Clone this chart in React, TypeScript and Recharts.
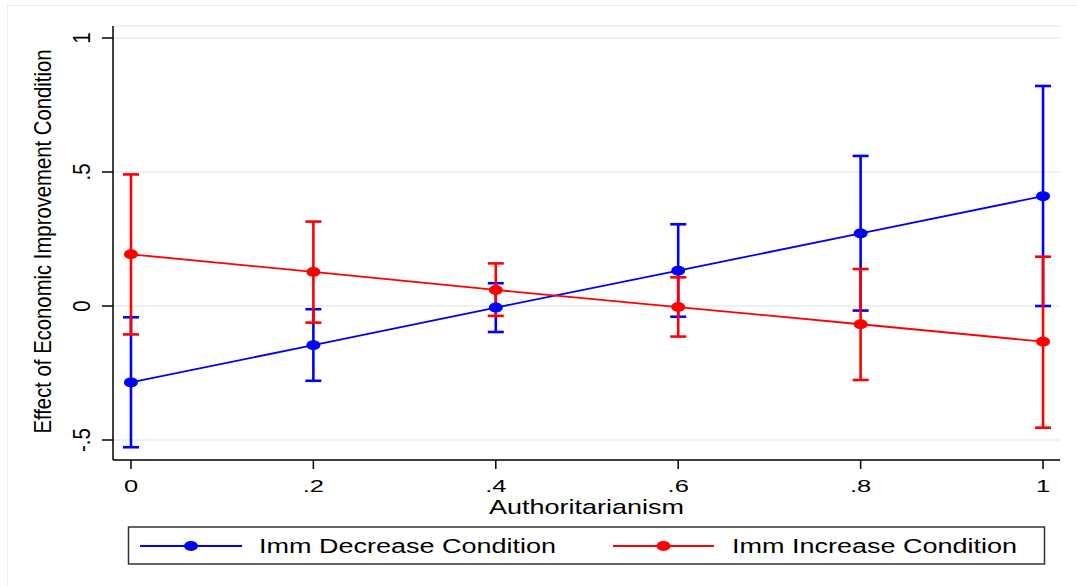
import { CartesianGrid, ComposedChart, ErrorBar, Label, Line, XAxis, YAxis } from "recharts"

const authoritarianism = [0, 0.2, 0.4, 0.6, 0.8, 1]

const decreaseEffect = [-0.285, -0.146, -0.006, 0.132, 0.271, 0.41]
const decreaseLow = [-0.527, -0.279, -0.097, -0.04, -0.017, 0.0]
const decreaseHigh = [-0.042, -0.012, 0.085, 0.305, 0.56, 0.821]

const increaseEffect = [0.193, 0.127, 0.06, -0.004, -0.068, -0.133]
const increaseLow = [-0.106, -0.062, -0.037, -0.114, -0.276, -0.454]
const increaseHigh = [0.491, 0.315, 0.159, 0.107, 0.138, 0.184]

const xTicks = [0, 0.2, 0.4, 0.6, 0.8, 1]
const yTicks = [-0.5, 0, 0.5, 1]

const series = [
  { key: "dec", name: "Imm Decrease Condition", color: "#0000ff" },
  { key: "inc", name: "Imm Increase Condition", color: "#ff0000" },
]

const data = authoritarianism.map((x, i) => ({
  x,
  dec: decreaseEffect[i],
  decErr: [decreaseEffect[i] - decreaseLow[i], decreaseHigh[i] - decreaseEffect[i]],
  inc: increaseEffect[i],
  incErr: [increaseEffect[i] - increaseLow[i], increaseHigh[i] - increaseEffect[i]],
}))

const FONT = "'Liberation Sans', Arial, Helvetica, sans-serif"
const STRETCH = 1.385

// stata style number labels: .2 instead of 0.2
const fmt = (v: number) => String(v).replace(/^(-?)0\./, "$1.")

function XTick(props: any) {
  const { x, y, payload } = props
  return (
    <text
      transform={`translate(${x},${y + 21}) scale(1.5,1)`}
      textAnchor="middle"
      fontFamily={FONT}
      fontSize={17}
      fill="#000"
    >
      {fmt(payload.value)}
    </text>
  )
}

function YTick(props: any) {
  const { x, y, payload } = props
  return (
    <text
      transform={`translate(${x - 10},${y}) rotate(-90) scale(1,1.15)`}
      textAnchor="middle"
      fontFamily={FONT}
      fontSize={20.5}
      fill="#000"
    >
      {fmt(payload.value)}
    </text>
  )
}

const makeDot = (color: string) => (p: any) => (
  <ellipse key={`d-${p.index}`} cx={p.cx} cy={p.cy} rx={7} ry={5} fill={color} />
)

function LegendBox() {
  const items = [
    { ...series[0], lineX: 140, lineEnd: 242, textX: 259 },
    { ...series[1], lineX: 613, lineEnd: 714, textX: 732 },
  ]
  return (
    <svg width={1077} height={586} style={{ position: "absolute", left: 0, top: 0, pointerEvents: "none" }}>
      <rect x={128.5} y={527} width={916} height={37} fill="#fff" stroke="#333" strokeWidth={1.5} />
      {items.map((it) => (
        <g key={it.key}>
          <line x1={it.lineX} y1={546} x2={it.lineEnd} y2={546} stroke={it.color} strokeWidth={1.8} />
          <ellipse cx={(it.lineX + it.lineEnd) / 2} cy={546} rx={7} ry={5} fill={it.color} />
          <text
            transform={`translate(${it.textX},553) scale(${STRETCH},1)`}
            fontFamily={FONT}
            fontSize={19.5}
            fill="#000"
          >
            {it.name}
          </text>
        </g>
      ))}
    </svg>
  )
}

export default function App() {
  return (
    <div style={{ position: "absolute", left: 0, top: 0, width: 1077, height: 586, background: "#fff" }}>
      <div
        style={{
          position: "absolute",
          left: 7,
          top: 5,
          width: 1090,
          height: 600,
          border: "1px solid #ececec",
        }}
      />
      <div style={{ position: "absolute", left: 0, top: 0 }}>
        <ComposedChart width={1077} height={586} data={data} margin={{ top: 26, right: 17, bottom: 66, left: 0 }}>
          <CartesianGrid horizontal vertical={false} stroke="#e6eef2" strokeWidth={1.5} />
          <XAxis
            dataKey="x"
            type="number"
            domain={[-0.0197, 1.0186]}
            ticks={xTicks}
            tick={<XTick />}
            tickSize={9}
            height={60}
            stroke="#000"
            strokeWidth={1.5}
            interval={0}
          >
            <Label
              content={(p: any) => {
                const vb = p.viewBox
                return (
                  <text
                    transform={`translate(${vb.x + vb.width / 2},${vb.y + 53.5}) scale(1.35,1)`}
                    textAnchor="middle"
                    fontFamily={FONT}
                    fontSize={20}
                    fill="#000"
                  >
                    Authoritarianism
                  </text>
                )
              }}
            />
          </XAxis>
          <YAxis
            type="number"
            domain={[-0.5746, 1.0448]}
            ticks={yTicks}
            tick={<YTick />}
            tickSize={11}
            width={113}
            stroke="#000"
            strokeWidth={1.5}
            interval={0}
          >
            <Label
              content={(p: any) => {
                const vb = p.viewBox
                return (
                  <text
                    transform={`translate(51,${vb.y + vb.height / 2 - 1.5}) rotate(-90) scale(1,1.18)`}
                    textAnchor="middle"
                    fontFamily={FONT}
                    fontSize={20.3}
                    fill="#000"
                  >
                    Effect of Economic Improvement Condition
                  </text>
                )
              }}
            />
          </YAxis>
          {series.map((s) => (
            <Line
              key={s.key}
              dataKey={s.key}
              name={s.name}
              type="linear"
              stroke={s.color}
              strokeWidth={1.8}
              dot={makeDot(s.color)}
              activeDot={false}
              isAnimationActive={false}
            >
              <ErrorBar dataKey={`${s.key}Err`} direction="y" width={8} stroke={s.color} strokeWidth={2.6} />
            </Line>
          ))}
        </ComposedChart>
      </div>
      <LegendBox />
    </div>
  )
}
